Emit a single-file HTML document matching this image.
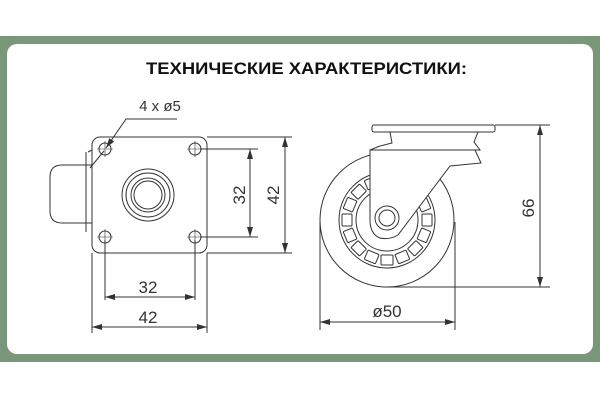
<!DOCTYPE html>
<html><head><meta charset="utf-8"><style>
html,body{margin:0;padding:0;background:#fff;width:600px;height:400px;overflow:hidden}
</style></head><body>
<svg width="600" height="400" viewBox="0 0 600 400" xmlns="http://www.w3.org/2000/svg" font-family="Liberation Sans, DejaVu Sans, sans-serif">
<rect x="0" y="0" width="600" height="400" fill="#fff"/>
<rect x="0" y="36" width="600" height="326" fill="#7b977a"/>
<rect x="7" y="44" width="586" height="310" rx="10" fill="#fff"/>
<text x="146" y="74" font-size="16.5" font-weight="bold" textLength="321" lengthAdjust="spacingAndGlyphs" fill="#111">ТЕХНИЧЕСКИЕ ХАРАКТЕРИСТИКИ:</text>
<defs>
<marker id="a" viewBox="0 0 10 6" refX="10" refY="3" markerWidth="10" markerHeight="6" orient="auto-start-reverse" markerUnits="userSpaceOnUse"><path d="M0,0 L10,3 L0,6 z" fill="#333"/></marker>
</defs>
<g stroke="#333" stroke-width="1" fill="none">
<path d="M92,165 L62,165 Q50,165 50,177 L50,211 Q50,223 62,223 L92,223" fill="#fff"/>
<path d="M86,152 L86,232 M88,152 L92,150"/>
<rect x="92" y="137" width="115" height="116" rx="8" fill="#fff"/>
<circle cx="105" cy="149" r="6"/><circle cx="195" cy="149" r="6"/>
<circle cx="105" cy="237" r="6"/><circle cx="195" cy="237" r="6"/>
<path d="M97,149 H113 M105,141 V157 M187,149 H203 M195,141 V157 M97,237 H113 M105,229 V245 M187,237 H203 M195,229 V245" stroke-width="0.6"/>
<circle cx="148" cy="195" r="26"/><circle cx="148" cy="195" r="22"/>
<circle cx="148" cy="195" r="17"/><circle cx="148" cy="195" r="14"/>
<path d="M200,149 H258 M200,237 H258 M207,137 H292 M207,253 H292"/>
<path d="M250,149 V237" marker-start="url(#a)" marker-end="url(#a)"/>
<path d="M285,137 V253" marker-start="url(#a)" marker-end="url(#a)"/>
<path d="M105,240 V300 M195,240 V300 M92,253 V333 M207,253 V333"/>
<path d="M105,297 H195" marker-start="url(#a)" marker-end="url(#a)"/>
<path d="M92,327 H207" marker-start="url(#a)" marker-end="url(#a)"/>
<path d="M177,119 H126 L106,148" marker-end="url(#a)"/>
<path d="M104,151 L90,168"/>
<circle cx="387" cy="220" r="67" fill="#fff"/>
<circle cx="387" cy="220" r="48"/>
<circle cx="387" cy="220" r="31"/>
</g>
<g stroke="#333" stroke-width="1" fill="#fff">
<g transform="rotate(0 387 220)"><rect x="381" y="175" width="12" height="10" rx="1"/></g>
<g transform="rotate(22.5 387 220)"><rect x="381" y="175" width="12" height="10" rx="1"/></g>
<g transform="rotate(45 387 220)"><rect x="381" y="175" width="12" height="10" rx="1"/></g>
<g transform="rotate(67.5 387 220)"><rect x="381" y="175" width="12" height="10" rx="1"/></g>
<g transform="rotate(90 387 220)"><rect x="381" y="175" width="12" height="10" rx="1"/></g>
<g transform="rotate(112.5 387 220)"><rect x="381" y="175" width="12" height="10" rx="1"/></g>
<g transform="rotate(135 387 220)"><rect x="381" y="175" width="12" height="10" rx="1"/></g>
<g transform="rotate(157.5 387 220)"><rect x="381" y="175" width="12" height="10" rx="1"/></g>
<g transform="rotate(180 387 220)"><rect x="381" y="175" width="12" height="10" rx="1"/></g>
<g transform="rotate(202.5 387 220)"><rect x="381" y="175" width="12" height="10" rx="1"/></g>
<g transform="rotate(225 387 220)"><rect x="381" y="175" width="12" height="10" rx="1"/></g>
<g transform="rotate(247.5 387 220)"><rect x="381" y="175" width="12" height="10" rx="1"/></g>
<g transform="rotate(270 387 220)"><rect x="381" y="175" width="12" height="10" rx="1"/></g>
<g transform="rotate(292.5 387 220)"><rect x="381" y="175" width="12" height="10" rx="1"/></g>
<g transform="rotate(315 387 220)"><rect x="381" y="175" width="12" height="10" rx="1"/></g>
<g transform="rotate(337.5 387 220)"><rect x="381" y="175" width="12" height="10" rx="1"/></g>
</g>
<g stroke="#333" stroke-width="1" fill="#fff">
<path d="M370,150 L475,150 L481,163 L450,166 L398,235 Q390,240 380,238 Q370,234 370,220 Z"/>
<path d="M390,132 L478,132 L474,142 L480,150 L370,150 L380,146 L392,143 Z"/>
<rect x="372" y="125" width="123" height="7" rx="2"/>
<circle cx="387" cy="218" r="12"/><circle cx="387" cy="218" r="8"/>
</g>
<g stroke="#333" stroke-width="1" fill="none">
<path d="M495,125 H550 M387,287 H550"/>
<path d="M540,125 V287" marker-start="url(#a)" marker-end="url(#a)"/>
<path d="M320,222 V330 M455,222 V330"/>
<path d="M320,322 H455" marker-start="url(#a)" marker-end="url(#a)"/>
</g>
<g fill="#333" font-size="17" text-anchor="middle">
<text x="148" y="293">32</text>
<text x="148" y="323">42</text>
<text x="387" y="317">ø50</text>
<text x="160" y="111" font-size="15">4 x ø5</text>
<text transform="translate(245,195) rotate(-90)">32</text>
<text transform="translate(279,195) rotate(-90)">42</text>
<text transform="translate(534,208) rotate(-90)">66</text>
</g>
</svg>
</body></html>
